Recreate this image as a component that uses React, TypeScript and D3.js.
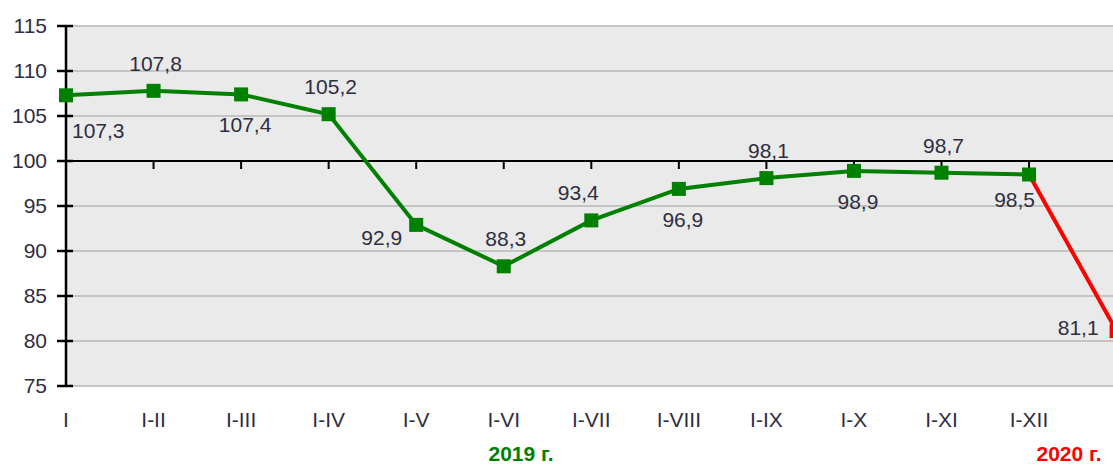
import React from "react";
import * as d3 from "d3";

const categories = ["I", "I-II", "I-III", "I-IV", "I-V", "I-VI", "I-VII", "I-VIII", "I-IX", "I-X", "I-XI", "I-XII", "I 2020"];
const categoryLabels = ["I", "I-II", "I-III", "I-IV", "I-V", "I-VI", "I-VII", "I-VIII", "I-IX", "I-X", "I-XI", "I-XII", ""];
const values2019 = [107.3, 107.8, 107.4, 105.2, 92.9, 88.3, 93.4, 96.9, 98.1, 98.9, 98.7, 98.5];
const values2020 = [98.5, 81.1];
const valueLabels = ["107,3", "107,8", "107,4", "105,2", "92,9", "88,3", "93,4", "96,9", "98,1", "98,9", "98,7", "98,5", "81,1"];
const labelPlacement = ["belowRight", "above", "below", "above", "left", "above", "aboveLeft", "below", "above", "below", "above", "belowLeft", "leftHigh"];
const yTicks = [75, 80, 85, 90, 95, 100, 105, 110, 115];
const yearLabels = ["2019 г.", "2020 г."];

const W = 1113;
const H = 466;
const FONT = "'Liberation Sans', Arial, sans-serif";
const TEXT = "#2e2e40";

export default function App() {
  const x = d3.scalePoint<string>().domain(categories).range([66, 66 + 12 * 87.55]);
  const y = d3.scaleLinear().domain([75, 115]).range([386, 26]);
  const xi = (i: number) => x(categories[i]) as number;

  const allValues = [...values2019, values2020[1]];
  const line = d3.line<number>().x((_, i) => xi(i)).y((d) => y(d));
  const redLine = d3.line<number>().x((_, i) => xi(11 + i)).y((d) => y(d));

  const labelPos = (i: number) => {
    const px = xi(i);
    const py = y(allValues[i]);
    const p = labelPlacement[i];
    if (p === "above") return { x: px + 2, y: py - 20, anchor: "middle" };
    if (p === "below") return { x: px + 4, y: py + 38, anchor: "middle" };
    if (p === "belowRight") return { x: px + 6, y: py + 43, anchor: "start" };
    if (p === "belowLeft") return { x: px + 6, y: py + 32, anchor: "end" };
    if (p === "aboveLeft") return { x: px - 13, y: py - 20, anchor: "middle" };
    if (p === "leftHigh") return { x: px - 18, y: py + 4, anchor: "end" };
    return { x: px - 14, y: py + 20, anchor: "end" };
  };

  return (
    <svg width={W} height={H} style={{ position: "fixed", left: 0, top: 0, background: "#fff" }} fontFamily={FONT}>
      <rect x={66} y={y(115)} width={W - 66} height={y(75) - y(115)} fill="#eaeaea" />
      {yTicks.map((t) => (
        <line key={"g" + t} x1={66} x2={W} y1={y(t)} y2={y(t)} stroke={t === 100 ? "#000" : "#c4c4c4"} strokeWidth={2} />
      ))}
      <line x1={66} x2={66} y1={y(115)} y2={y(75)} stroke="#000" strokeWidth={2.5} />
      {yTicks.map((t) => (
        <line key={"t" + t} x1={57} x2={73} y1={y(t)} y2={y(t)} stroke="#000" strokeWidth={2.5} />
      ))}
      {categories.map((c, i) =>
        i === 0 ? null : (
          <line key={"ct" + c} x1={xi(i)} x2={xi(i)} y1={y(100)} y2={y(100) + 8} stroke="#000" strokeWidth={2} />
        )
      )}
      {yTicks.map((t) => (
        <text key={"yl" + t} x={47} y={y(t) + 7} textAnchor="end" fontSize={21} fill={TEXT}>
          {t}
        </text>
      ))}
      {categoryLabels.map((c, i) =>
        c ? (
          <text key={"cl" + i} x={xi(i)} y={427} textAnchor="middle" fontSize={21} fill={TEXT}>
            {c}
          </text>
        ) : null
      )}
      <path d={redLine(values2020) || ""} fill="none" stroke="#ff0000" strokeWidth={4} />
      <rect x={xi(12) - 7} y={y(values2020[1]) - 7} width={14} height={14} fill="#ff0000" />
      <path d={line(values2019) || ""} fill="none" stroke="#008000" strokeWidth={4} />
      {values2019.map((v, i) => (
        <rect key={"m" + i} x={xi(i) - 7} y={y(v) - 7} width={14} height={14} fill="#008000" />
      ))}
      {valueLabels.map((l, i) => {
        const p = labelPos(i);
        return (
          <text key={"vl" + i} x={p.x} y={p.y} textAnchor={p.anchor as any} fontSize={21} fill={TEXT}>
            {l}
          </text>
        );
      })}
      <text x={521} y={461} textAnchor="middle" fontSize={21} fontWeight="bold" fill="#008000">
        {yearLabels[0]}
      </text>
      <text x={1069} y={461} textAnchor="middle" fontSize={21} fontWeight="bold" fill="#ff0000">
        {yearLabels[1]}
      </text>
    </svg>
  );
}
